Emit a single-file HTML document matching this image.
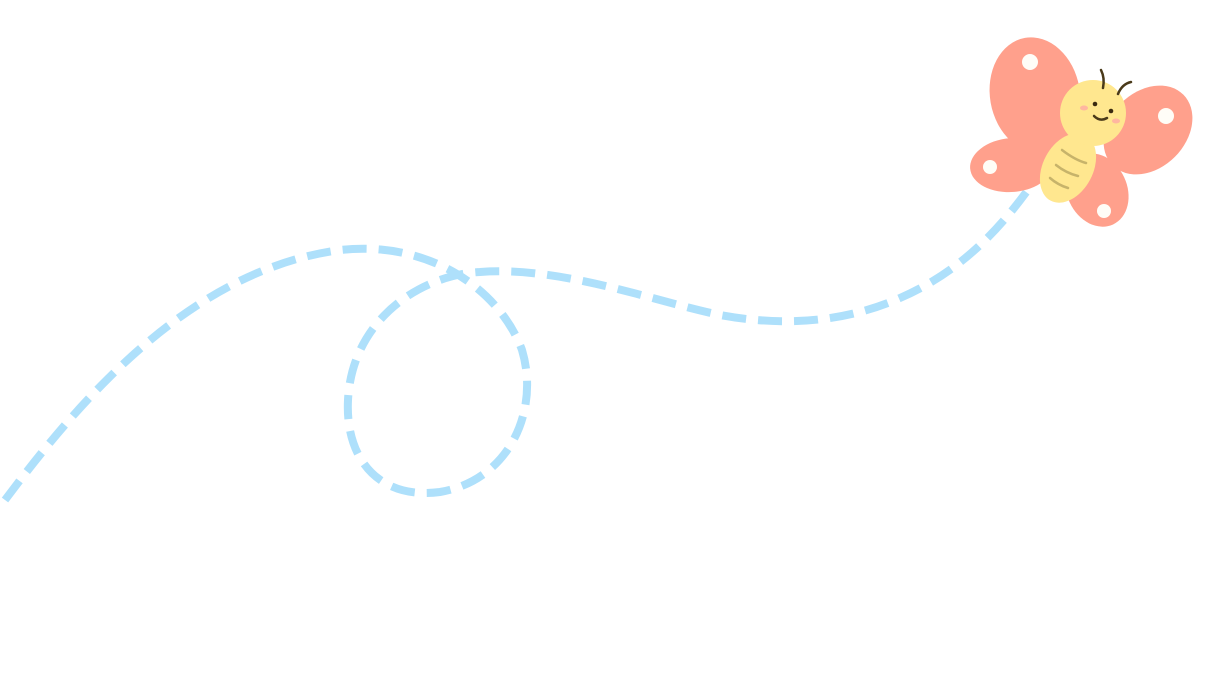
<!DOCTYPE html>
<html><head><style>html,body{margin:0;padding:0;background:#fff;width:1213px;height:688px;overflow:hidden}</style></head>
<body>
<svg width="1213" height="688" viewBox="0 0 1213 688" xmlns="http://www.w3.org/2000/svg">
<path d="M5,500 C80,400 190,270 340,250 C430,240 500,290 522,350 C540,410 510,480 440,492 C380,500 345,460 348,400 C352,320 420,275 480,272 C560,266 650,300 720,315 C790,328 850,320 900,298 C960,272 1000,230 1035,180" fill="none" stroke="#aee0fb" stroke-width="8" stroke-dasharray="24 12"/>
<g fill="#ffa08c">
<ellipse cx="1035" cy="95" rx="45" ry="58" transform="rotate(-10 1035 95)"/>
<ellipse cx="1012" cy="165" rx="42" ry="27" transform="rotate(-5 1012 165)"/>
<ellipse cx="1148" cy="130" rx="38" ry="50" transform="rotate(45 1148 130)"/>
<ellipse cx="1097" cy="190" rx="30" ry="38" transform="rotate(-25 1097 190)"/>
</g>
<g fill="#fffdf7">
<circle cx="1030" cy="62" r="8"/><circle cx="990" cy="167" r="7"/>
<circle cx="1166" cy="116" r="8"/><circle cx="1104" cy="211" r="7"/>
</g>
<ellipse cx="1068" cy="168" rx="25" ry="37" transform="rotate(28 1068 168)" fill="#ffe78f"/>
<circle cx="1093" cy="113" r="33" fill="#ffe78f"/>
<g stroke="#c7b36a" stroke-width="2.5" fill="none" stroke-linecap="round">
<path d="M1062,150 Q1075,160 1086,163"/><path d="M1056,165 Q1066,173 1078,176"/><path d="M1050,178 Q1058,185 1068,188"/>
</g>
<g stroke="#4a3a1a" stroke-width="2.5" fill="none" stroke-linecap="round">
<path d="M1101,70 Q1105,78 1103,88"/><path d="M1118,94 Q1122,84 1131,82"/>
<path d="M1094,116 Q1100,122 1107,118"/>
</g>
<circle cx="1095" cy="104" r="2.3" fill="#3a2a10"/><circle cx="1111" cy="111" r="2.3" fill="#3a2a10"/>
<ellipse cx="1084" cy="108" rx="4" ry="2.5" fill="#ffb7a0"/><ellipse cx="1116" cy="121" rx="4" ry="2.5" fill="#ffb7a0"/>
</svg>
</body></html>
